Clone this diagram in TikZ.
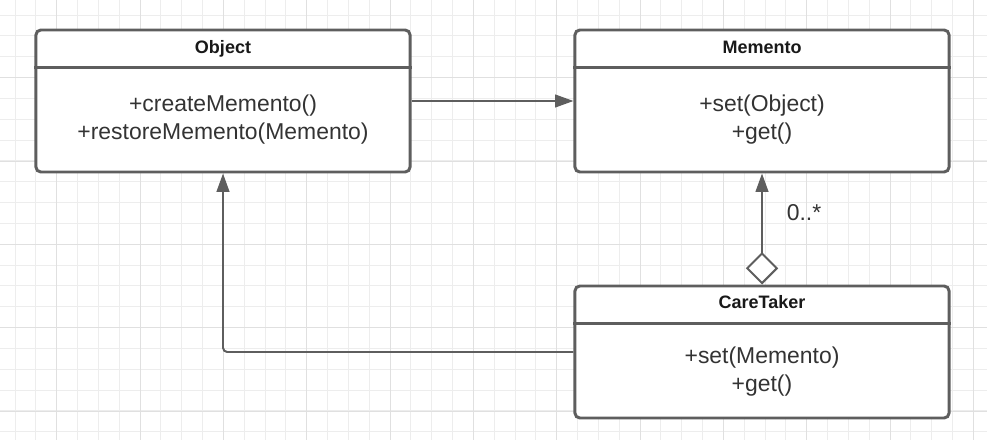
\documentclass[tikz,border=0pt]{standalone}
\usepackage{fontspec}
\setmainfont{Liberation Sans}
\usetikzlibrary{calc}
\usetikzlibrary{arrows.meta}
\definecolor{linegrey}{HTML}{5E5E5E}
\definecolor{textgrey}{HTML}{333333}
\definecolor{minorgrid}{HTML}{EDEDED}
\definecolor{majorgrid}{HTML}{E0E0E0}

\begin{document}
\begin{tikzpicture}[x=0.025cm, y=-0.025cm,
  classbox/.style={draw=linegrey, line width=2.1pt, rounded corners=3.5pt, fill=white, minimum width=9.35cm, inner sep=0pt},
  classname/.style={font=\bfseries\fontsize{12.8}{15}\selectfont, text=black!90, anchor=base},
  classops/.style={font=\fontsize{16.3}{19.3}\selectfont, text=textgrey, align=center},
  conn/.style={draw=linegrey, line width=1.4pt, >={Triangle[length=13pt,width=9pt]}}]

\useasboundingbox (0,0) rectangle (987,440);
\fill[white] (0,0) rectangle (987,440);

% grid
\foreach \i in {0,...,46} \draw[minorgrid, line width=0.7pt] ({15+20.8333*\i},0) -- ({15+20.8333*\i},440);
\foreach \i in {0,...,20} \draw[minorgrid, line width=0.7pt] (0,{15+20.8333*\i}) -- (987,{15+20.8333*\i});
\foreach \i in {0,...,11} \draw[majorgrid, line width=0.7pt] ({56.67+83.333*\i},0) -- ({56.67+83.333*\i},440);
\foreach \i in {0,...,4} \draw[majorgrid, line width=0.7pt] (0,{77.7+83.333*\i}) -- (987,{77.7+83.333*\i});

% classes
\node[classbox, minimum height=3.55cm] (object) at (223,101) {};
\node[classbox, minimum height=3.55cm] (memento) at (762,101) {};
\node[classbox, minimum height=3.3cm] (caretaker) at (762,352) {};

\draw[linegrey, line width=2.1pt] ($(object.north west)+(0,39)$) -- ($(object.north east)+(0,39)$); % header
\draw[linegrey, line width=2.1pt] ($(memento.north west)+(0,39)$) -- ($(memento.north east)+(0,39)$); % header
\draw[linegrey, line width=2.1pt] ($(caretaker.north west)+(0,39)$) -- ($(caretaker.north east)+(0,39)$); % header

\node[classname] (objectname) at ($(object.north)+(0,25)$) {Object};
\node[classname] (mementoname) at ($(memento.north)+(0,25)$) {Memento};
\node[classname] (caretakername) at ($(caretaker.north)+(0,24)$) {CareTaker};

\node[classops] (objectops) at ($(object.north)+(0,91)$) {+createMemento()\\+restoreMemento(Memento)};
\node[classops] (mementoops) at ($(memento.north)+(0,91)$) {+set(Object)\\+get()};
\node[classops] (caretakerops) at ($(caretaker.north)+(0,87)$) {+set(Memento)\\+get()};

% connectors
\draw[conn, ->] (object.east) -- (memento.west);
\draw[conn, {Diamond[fill=white,length=23pt,width=23pt]}->] (caretaker.north) -- (memento.south);
\draw[conn, ->, rounded corners=3pt] (caretaker.west) -| (object.south);

\node[classops] (multiplicity) at (804,213) {0..*};

\end{tikzpicture}
\end{document}
